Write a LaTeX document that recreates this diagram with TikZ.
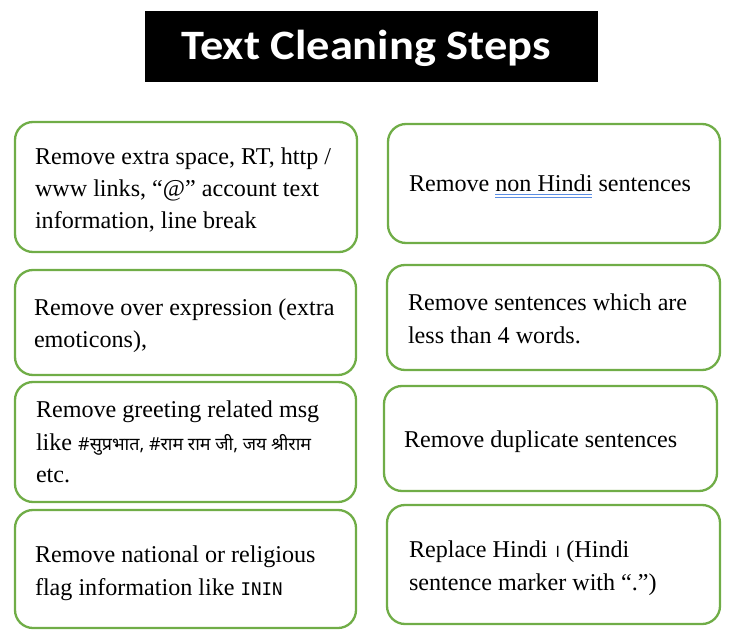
\documentclass[tikz,border=0pt]{standalone}
\usepackage{fontspec}
\setmainfont{Liberation Serif}
\newfontfamily\titlefont[FakeStretch=1.11]{Carlito}
\newfontfamily\devfont[Script=Devanagari]{Noto Sans}
\newfontfamily\flagfont{DejaVu Sans Mono}
\definecolor{boxgreen}{RGB}{112,173,71}
\definecolor{ulblue}{RGB}{90,140,225}
\newcommand\dblul[1]{\setbox0=\hbox{#1}\rlap{\color{ulblue}\rule[-3pt]{\wd0}{0.9pt}}\rlap{\color{ulblue}\rule[-5.6pt]{\wd0}{0.9pt}}\box0\relax}
\newcommand\dev[1]{{\devfont\fontsize{18}{20}\selectfont #1}}
\begin{document}
\begin{tikzpicture}[x=1bp,y=-1bp,
  stepbox/.style={draw=boxgreen,line width=2.3bp,rounded corners=18bp,fill=white,
    rectangle,inner sep=0pt,outer sep=0pt},
  titlebox/.style={fill=black,rectangle,inner sep=0pt,outer sep=0pt,
    minimum width=453bp,minimum height=71bp},
  titletext/.style={text=white,font=\titlefont\bfseries\fontsize{42}{44}\selectfont,inner sep=0pt},
  txt/.style={anchor=base west,inner sep=0pt,outer sep=0pt,font=\fontsize{24.2}{30}\selectfont}]
\useasboundingbox (0,0) rectangle (747,640);

% title
\node[titlebox] (title) at (371.5,46.5) {};
\node[titletext,anchor=base] (titletxt) at (366,60) {Text Cleaning Steps};

% boxes
\node[stepbox,minimum width=342bp,minimum height=130bp] (L1) at (186,187) {};
\node[stepbox,minimum width=341bp,minimum height=105bp] (L2) at (185.5,322.5) {};
\node[stepbox,minimum width=341bp,minimum height=120bp] (L3) at (185.5,442) {};
\node[stepbox,minimum width=341bp,minimum height=118bp] (L4) at (185.5,569) {};
\node[stepbox,minimum width=332bp,minimum height=119bp] (R1) at (554,183.5) {};
\node[stepbox,minimum width=333bp,minimum height=105bp] (R2) at (553.5,317.5) {};
\node[stepbox,minimum width=333bp,minimum height=105bp] (R3) at (550.5,438.5) {};
\node[stepbox,minimum width=333bp,minimum height=119bp] (R4) at (553.5,564.5) {};

% texts left
\node[txt] (L1a) at (35,165) {Remove extra space, RT, http /};
\node[txt] (L1b) at (35,197) {www links, “@” account text};
\node[txt] (L1c) at (35,228.5) {information, line break};

\node[txt] (L2a) at (34,315) {Remove over expression (extra};
\node[txt] (L2b) at (34,347) {emoticons),};

\node[txt] (L3a) at (36,417) {Remove greeting related msg};
\node[txt] (L3b) at (36,450) {like \dev{\#सुप्रभात, \#राम राम जी, जय श्रीराम}};
\node[txt] (L3c) at (36,482) {etc.};

\node[txt] (L4a) at (35,562) {Remove national or religious};
\node[txt] (L4b) at (35,595) {flag information like {\flagfont\fontsize{17.5}{20}\selectfont ININ}};

% texts right
\node[txt] (R1a) at (409,192) {Remove \dblul{non Hindi} sentences};

\node[txt] (R2a) at (408,310) {Remove sentences which are};
\node[txt] (R2b) at (408,343) {less than 4 words.};

\node[txt] (R3a) at (404,447) {Remove duplicate sentences};

\node[txt] (R4a) at (409,557) {Replace Hindi \dev{।} (Hindi};
\node[txt] (R4b) at (409,590) {sentence marker with “.”)};
\end{tikzpicture}
\end{document}
